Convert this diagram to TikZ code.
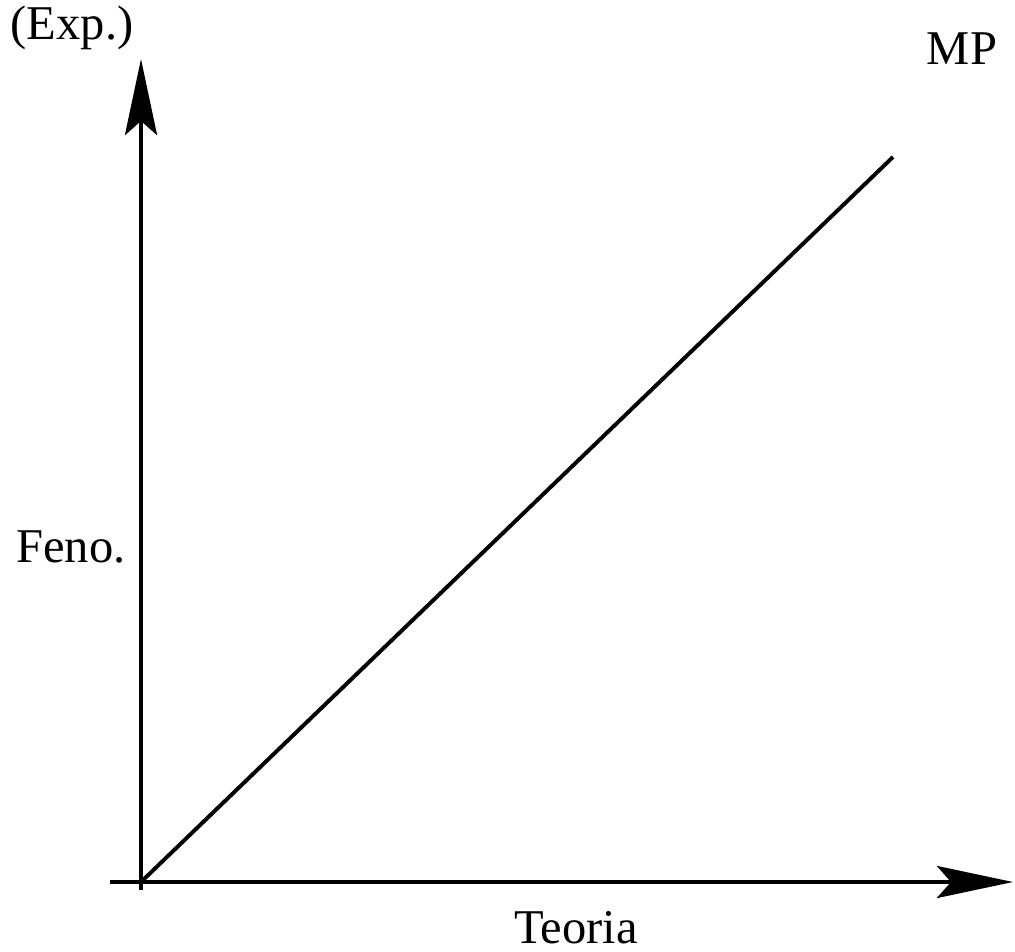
\documentclass[tikz,border=0pt]{standalone}
\usepackage{fontspec}
\setmainfont{Liberation Serif}
\usetikzlibrary{arrows.meta,positioning}
\definecolor{ink}{RGB}{0,0,0}
\tikzset{
  >={Stealth[length=19mm,width=8mm,inset=3.5mm]},
  axis/.style={->,line width=3pt,draw=ink},
  trend/.style={line width=2.8pt,draw=ink},
  lbl/.style={font=\fontsize{34.5}{40}\selectfont,text=ink,inner sep=0pt,anchor=base},
}
\begin{document}
\begin{tikzpicture}[x=0.025cm,y=-0.025cm]
        \useasboundingbox (0,0) rectangle (1015,952);
        \coordinate (origin) at (141,882);
        \coordinate (ybot) at (141,890);
        \coordinate (ytop) at (141,59);
        \coordinate (xleft) at (110,882);
        \coordinate (xright) at (1013,882);
        \coordinate (mpend) at (893,157);
        \draw[axis] (ybot) -- (ytop);
        \draw[axis] (xleft) -- (xright);
        \draw[trend] (origin) -- (mpend);
        \node[lbl] (exp) at (72,40) {(Exp.)};
        \node[lbl] (mp) at (962,65) {MP};
        \node[lbl] (feno) at (71,562) {Feno.};
        \node[lbl] (teoria) at (576,943) {Teoria};
      \end{tikzpicture}
\end{document}
